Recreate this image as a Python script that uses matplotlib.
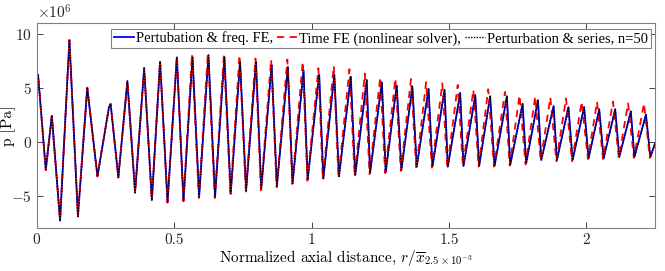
import matplotlib
matplotlib.use("Agg")
import matplotlib.pyplot as plt
import numpy as np

# extrema (x: normalized distance, p in units of 1e6 Pa)
freq_x = [0.000, 0.005, 0.033, 0.055, 0.085, 0.119, 0.150, 0.184, 0.221, 0.263,
          0.269, 0.297, 0.330, 0.358, 0.391, 0.419, 0.449, 0.476, 0.510, 0.534,
          0.567, 0.591, 0.625, 0.649, 0.683, 0.706, 0.740, 0.762, 0.798, 0.817,
          0.855, 0.874, 0.914, 0.931, 0.971, 0.986, 1.028, 1.043, 1.083, 1.100,
          1.143, 1.159, 1.201, 1.213, 1.256, 1.270, 1.310, 1.327, 1.367, 1.383,
          1.426, 1.440, 1.484, 1.496, 1.541, 1.553, 1.596, 1.610, 1.650, 1.666,
          1.711, 1.723, 1.768, 1.781, 1.824, 1.836, 1.881, 1.893, 1.935, 1.950,
          1.992, 2.008, 2.047, 2.063, 2.105, 2.120, 2.162, 2.175, 2.217, 2.233,
          2.250]
freq_p = [5.5, 6.2, -2.6, 2.4, -7.3, 9.4, -6.9, 5.0, -3.2, 3.2,
          3.5, -3.3, 5.6, -4.7, 6.8, -5.4, 7.4, -5.6, 7.8, -5.5,
          7.85, -5.1, 8.0, -5.1, 7.85, -4.8, 7.4, -4.5, 7.4, -4.4,
          7.1, -4.1, 6.9, -3.85, 6.6, -3.5, 6.2, -3.4, 6.2, -3.2,
          6.0, -3.1, 5.7, -2.9, 5.5, -2.8, 5.2, -2.6, 5.1, -2.3,
          4.9, -2.3, 4.8, -2.3, 4.5, -2.25, 4.3, -2.25, 4.2, -2.25,
          4.2, -2.15, 3.5, -2.0, 3.85, -1.7, 3.3, -1.7, 3.2, -1.7,
          3.2, -1.55, 3.0, -1.55, 3.0, -1.4, 2.8, -1.4, 2.5, -1.4,
          -0.15]

time_x = [0.000, 0.005, 0.033, 0.055, 0.085, 0.119, 0.150, 0.184, 0.221, 0.263,
          0.269, 0.297, 0.330, 0.358, 0.391, 0.419, 0.449, 0.476, 0.510, 0.534,
          0.565, 0.590, 0.623, 0.648, 0.681, 0.705, 0.738, 0.761, 0.796, 0.816,
          0.853, 0.873, 0.912, 0.930, 0.968, 0.985, 1.025, 1.041, 1.081, 1.098,
          1.138, 1.157, 1.194, 1.211, 1.250, 1.268, 1.305, 1.325, 1.362, 1.381,
          1.417, 1.438, 1.476, 1.494, 1.532, 1.551, 1.589, 1.608, 1.643, 1.664,
          1.704, 1.721, 1.757, 1.779, 1.814, 1.834, 1.869, 1.891, 1.926, 1.948,
          1.983, 2.006, 2.039, 2.061, 2.097, 2.118, 2.152, 2.173, 2.210, 2.231,
          2.250]
time_p = [5.5, 6.2, -2.6, 2.4, -7.3, 9.4, -6.9, 5.0, -3.2, 3.2,
          3.5, -3.3, 5.6, -4.7, 6.8, -5.4, 7.5, -5.6, 7.9, -5.5,
          8.1, -5.2, 8.2, -5.2, 8.0, -4.9, 8.0, -4.6, 7.7, -4.5,
          7.6, -4.2, 7.6, -3.9, 7.4, -3.6, 6.8, -3.5, 7.0, -3.3,
          6.7, -3.2, 6.3, -3.0, 5.95, -2.9, 5.85, -2.7, 5.8, -2.5,
          5.5, -2.4, 5.4, -2.4, 5.25, -2.3, 4.8, -2.3, 4.85, -2.3,
          4.6, -2.2, 4.3, -2.1, 4.2, -1.8, 4.1, -1.8, 4.0, -1.8,
          3.7, -1.6, 3.7, -1.6, 3.7, -1.5, 3.55, -1.5, 3.55, -1.5,
          -0.4]

series_x = freq_x
series_p = freq_p

labels = ["Pertubation & freq. FE,", "Time FE (nonlinear solver),",
          "Perturbation & series, n=50"]

plt.rcParams["font.family"] = "cmr10"
plt.rcParams["mathtext.fontset"] = "cm"
plt.rcParams["axes.formatter.use_mathtext"] = True

fig = plt.figure(figsize=(6.65, 2.71), dpi=100)
ax = fig.add_axes([0.0552, 0.1576, 0.9298, 0.7586])

ax.plot(freq_x, np.array(freq_p) * 1e6, color="#0000ff", lw=1.3, label=labels[0])
ax.plot(time_x, np.array(time_p) * 1e6, color="#ff0000", lw=1.3, ls=(0, (4, 3)),
        label=labels[1])
ax.plot(series_x, np.array(series_p) * 1e6, color="black", lw=1.0, ls=(0, (1, 1)),
        label=labels[2])

ax.set_xlim(0, 2.25)
ax.set_ylim(-8e6, 11e6)
ax.set_xticks([0, 0.5, 1, 1.5, 2])
ax.set_xticklabels(["0", "0.5", "1", "1.5", "2"])
ax.set_yticks([-5e6, 0, 5e6, 10e6])
ax.ticklabel_format(axis="y", style="sci", scilimits=(6, 6))
ax.tick_params(direction="in", top=True, right=True, labelsize=11, colors="#262626",
               length=4, width=0.6)
for s in ax.spines.values():
    s.set_color("#808080")
    s.set_linewidth(0.8)
ax.yaxis.get_offset_text().set_fontsize(11)

ax.set_xlabel(r"Normalized axial distance, $r/\overline{x}_{2.5\times10^{-3}}$",
              fontsize=11, labelpad=1)
ax.set_ylabel("p [Pa]", fontsize=11)
ax.yaxis.set_label_coords(-0.033, 0.5)

leg = ax.legend(ncol=3, loc="upper right", bbox_to_anchor=(0.9985, 0.985),
                prop={"family": "Liberation Serif", "size": 10.5},
                handlelength=1.35, handletextpad=0.15, columnspacing=0.3,
                borderpad=0.2, borderaxespad=0.2, fancybox=False, framealpha=1)
leg.get_frame().set_edgecolor("#808080")
leg.get_frame().set_linewidth(0.8)

fig.savefig("out.png", dpi=100)
